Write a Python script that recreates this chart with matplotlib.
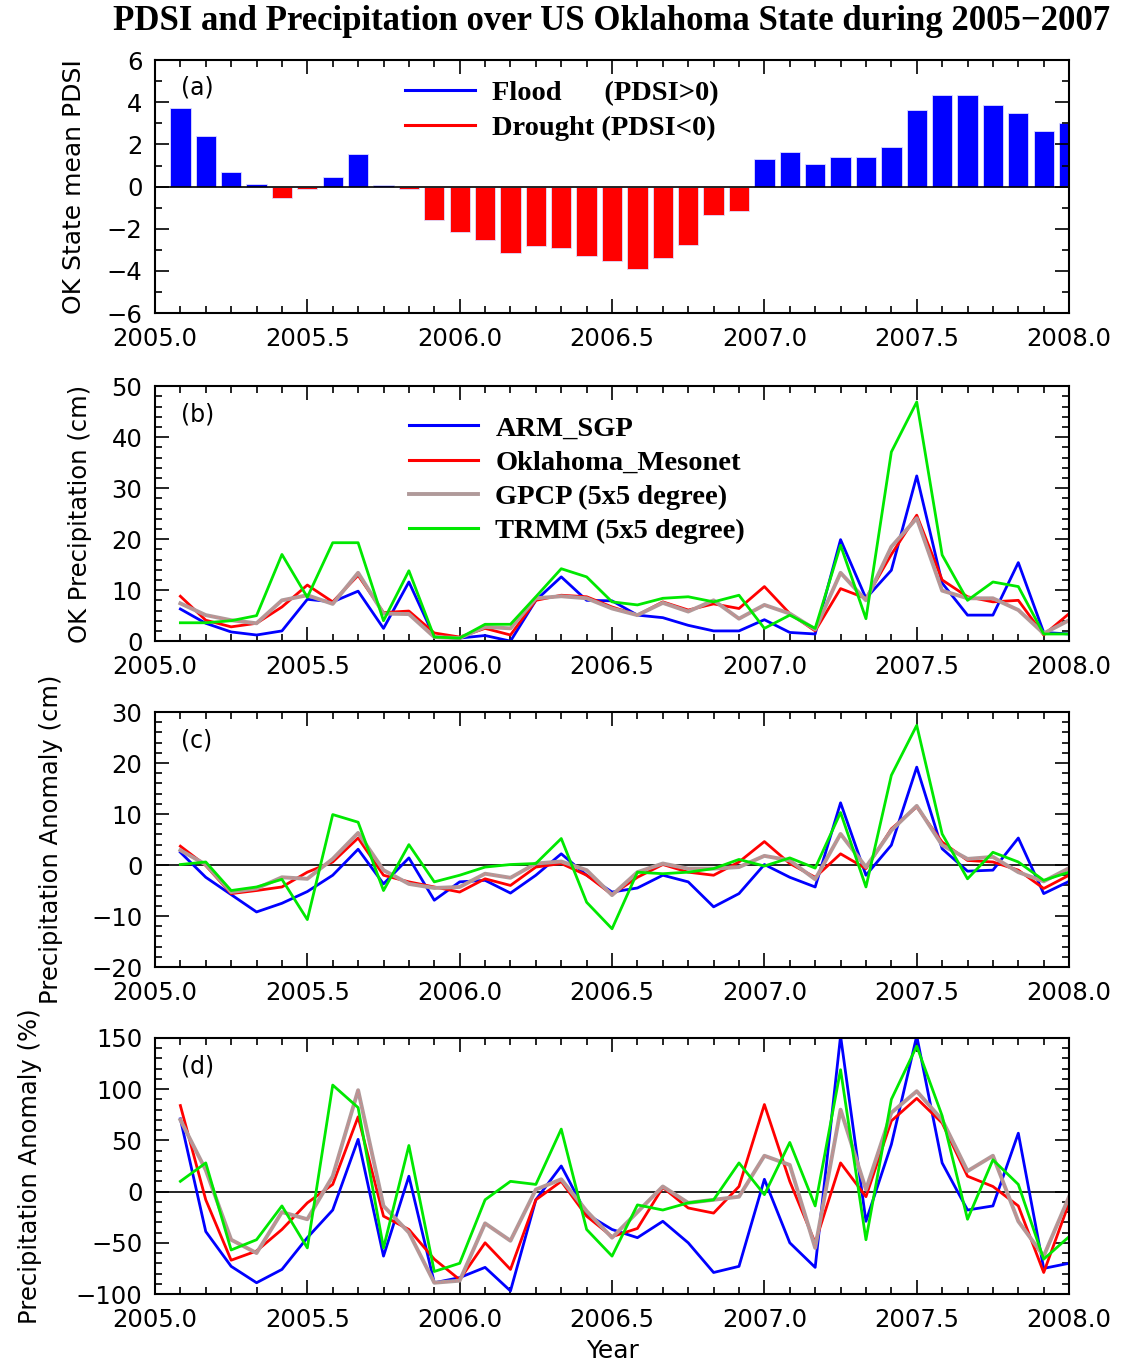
import matplotlib
matplotlib.use("Agg")
import matplotlib.pyplot as plt
import numpy as np
from matplotlib.lines import Line2D
from matplotlib.ticker import MultipleLocator

# monthly time axis: Feb 2005 ... Jan 2008 (plotted as 2005+k/12)
months = np.arange(1, 37)
years = 2005 + months / 12.0

pdsi = [3.72, 2.40, 0.70, 0.10, -0.52, -0.12, 0.47, 1.55, 0.08, -0.12,
        -1.59, -2.15, -2.54, -3.14, -2.84, -2.92, -3.30, -3.52, -3.92, -3.38,
        -2.75, -1.36, -1.14, 1.33, 1.63, 1.09, 1.39, 1.39, 1.87, 3.63,
        4.33, 4.33, 3.87, 3.49, 2.64, 3.02]

# (b) precipitation (cm)
arm_p = [6.3, 3.5, 1.8, 1.2, 2.0, 8.2, 7.7, 9.8, 2.5, 11.6,
         0.8, 0.6, 1.1, 0.0, 8.0, 12.6, 8.0, 7.9, 5.1, 4.6,
         3.1, 2.0, 2.0, 4.2, 1.7, 1.4, 19.9, 8.4, 13.9, 32.4,
         11.4, 5.1, 5.1, 15.4, 1.7, 1.4]
meso_p = [8.8, 4.1, 2.8, 3.5, 6.7, 11.0, 7.7, 12.9, 5.6, 5.9,
          1.6, 0.8, 2.5, 1.2, 8.0, 9.0, 8.7, 6.7, 5.1, 7.7,
          6.1, 7.3, 6.4, 10.7, 5.4, 2.0, 10.3, 8.4, 17.0, 24.7,
          12.0, 8.7, 7.7, 8.0, 1.2, 5.4]
gpcp_p = [7.4, 5.1, 4.1, 3.5, 8.0, 9.0, 7.3, 13.4, 5.4, 5.3,
          0.8, 0.6, 2.8, 2.5, 8.4, 8.8, 8.4, 6.4, 5.1, 7.5,
          5.8, 8.0, 4.4, 7.1, 5.4, 2.3, 13.4, 8.0, 18.5, 24.1,
          9.9, 8.4, 8.4, 6.1, 1.5, 4.1]
trmm_p = [3.6, 3.6, 4.0, 5.0, 17.0, 8.6, 19.3, 19.3, 4.0, 13.8,
          0.8, 0.6, 3.3, 3.3, 8.7, 14.2, 12.6, 7.7, 7.1, 8.4,
          8.7, 7.7, 9.0, 2.5, 5.1, 2.5, 18.8, 4.4, 37.1, 46.9,
          16.9, 8.0, 11.6, 10.7, 1.4, 1.4]

# (c) precipitation anomaly (cm)
arm_a = [2.5, -2.4, -5.8, -9.2, -7.5, -5.2, -2.0, 3.1, -3.7, 1.4,
         -6.9, -3.3, -3.0, -5.5, -2.0, 2.2, -2.0, -5.3, -4.5, -2.0,
         -3.3, -8.2, -5.6, 0.1, -2.4, -4.3, 12.2, -2.0, 3.9, 19.2,
         3.2, -1.2, -1.0, 5.3, -5.6, -3.2]
meso_a = [3.7, -0.1, -5.6, -5.0, -4.3, -1.4, 0.6, 5.3, -2.0, -3.3,
          -4.3, -5.3, -2.7, -4.0, -0.4, 0.3, -2.0, -5.8, -2.4, 0.1,
          -1.4, -2.0, 0.6, 4.6, 0.3, -2.4, 2.2, -0.7, 7.1, 11.4,
          4.5, 0.9, 0.6, -1.0, -4.6, -2.0]
gpcp_a = [2.9, 0.1, -5.3, -4.6, -2.4, -2.7, 1.2, 6.3, -1.0, -3.7,
          -4.5, -4.3, -1.7, -2.5, 0.3, 0.7, -1.0, -5.9, -1.4, 0.3,
          -0.7, -0.7, -0.4, 1.8, 0.9, -2.8, 6.1, -0.4, 6.8, 11.6,
          3.9, 1.2, 1.6, -1.4, -3.2, -0.6]
trmm_a = [0.1, 0.6, -5.0, -4.3, -2.8, -10.7, 9.9, 8.4, -5.0, 4.0,
          -3.3, -2.0, -0.4, 0.1, 0.3, 5.2, -7.3, -12.5, -1.4, -1.7,
          -1.4, -0.7, 1.1, -0.2, 1.4, -0.6, 10.3, -4.3, 17.6, 27.4,
          6.1, -2.7, 2.5, 0.6, -3.0, -1.4]

# (d) precipitation anomaly (%)
arm_r = [71, -39, -73, -89, -76, -45, -18, 51, -63, 15,
         -89, -84, -74, -97, -8, 25, -22, -37, -45, -29,
         -50, -79, -73, 12, -50, -74, 152, -29, 46, 152,
         28, -18, -14, 57, -75, -70]
meso_r = [84, -8, -67, -58, -37, -11, 7, 73, -24, -37,
          -66, -86, -50, -76, -8, 10, -24, -44, -36, 4,
          -16, -21, 5, 85, 10, -50, 28, -5, 69, 91,
          67, 15, 5, -14, -79, -11]
gpcp_r = [70, 21, -47, -60, -20, -27, 15, 99, -14, -40,
          -89, -87, -31, -48, 2, 12, -19, -45, -20, 5,
          -11, -8, -5, 35, 26, -55, 80, 2, 77, 98,
          70, 20, 35, -29, -63, -5]
trmm_r = [10, 28, -57, -47, -14, -55, 104, 82, -55, 45,
          -78, -70, -8, 10, 7, 61, -37, -63, -13, -18,
          -11, -8, 28, -3, 48, -14, 119, -47, 90, 142,
          74, -27, 31, 7, -66, -44]

names = ["ARM_SGP", "Oklahoma_Mesonet", "GPCP (5x5 degree)", "TRMM (5x5 degree)"]
colors = ["#0000ff", "#ff0000", "#b09a9a", "#00e800"]
GPCP_C = "#b09a9a"

serif_bold = {"family": ["Liberation Serif", "DejaVu Serif"], "weight": "bold"}
plt.rcParams["font.family"] = ["DejaVu Sans"]

fig = plt.figure(figsize=(11.23, 13.67), dpi=100)
left, width = 0.138, 0.814
ax_a = fig.add_axes([left, 0.771, width, 0.185])
ax_b = fig.add_axes([left, 0.531, width, 0.1865])
ax_c = fig.add_axes([left, 0.2926, width, 0.1865])
ax_d = fig.add_axes([left, 0.0534, width, 0.1873])


def style_axis(ax, ylim, ymajor, yminor):
    ax.set_xlim(2005.0, 2008.0)
    ax.set_ylim(*ylim)
    ax.xaxis.set_major_locator(MultipleLocator(0.5))
    ax.xaxis.set_minor_locator(MultipleLocator(1 / 12))
    ax.yaxis.set_major_locator(MultipleLocator(ymajor))
    ax.yaxis.set_minor_locator(MultipleLocator(yminor))
    ax.xaxis.set_major_formatter(plt.FuncFormatter(lambda v, p: "%.1f" % v))
    ax.yaxis.set_major_formatter(plt.FuncFormatter(lambda v, p: ("%d" % v).replace("-", "\u2212")))
    ax.tick_params(which="both", direction="in", top=True, right=True, labelsize=17.5, width=1.2)
    ax.tick_params(which="major", length=10)
    ax.tick_params(which="minor", length=5)
    ax.tick_params(axis="x", which="major", pad=10)
    ax.tick_params(axis="y", which="major", pad=9)
    for s in ax.spines.values():
        s.set_linewidth(1.5)


leg_kw = dict(loc="upper left", frameon=False, handlelength=2.45, handletextpad=0.6,
              labelspacing=0.29, borderaxespad=0, prop={**serif_bold, "size": 20.5})

# (a) PDSI bars
pdsi = np.array(pdsi)
bar_cols = np.where(pdsi > 0, "#0000ff", "#ff0000")
ax_a.bar(years, pdsi, width=0.8 / 12, color=bar_cols, edgecolor="#ddddff", linewidth=0.6)
ax_a.axhline(0, color="black", lw=1.2)
style_axis(ax_a, (-6, 6), 2, 1)
ax_a.set_ylabel("OK State mean PDSI", fontsize=18, labelpad=15)
ax_a.text(0.028, 0.89, "(a)", transform=ax_a.transAxes, fontsize=17, va="center")
handles_a = [Line2D([], [], color="#0000ff", lw=2.2), Line2D([], [], color="#ff0000", lw=2.2)]
ax_a.legend(handles_a, ["Flood      (PDSI>0)", "Drought (PDSI<0)"],
            bbox_to_anchor=(0.261, 0.965), **leg_kw)

# (b)-(d) line panels
panels = [
    (ax_b, [arm_p, meso_p, gpcp_p, trmm_p], (0, 50), 10, 2, "OK Precipitation (cm)", "(b)", 14),
    (ax_c, [arm_a, meso_a, gpcp_a, trmm_a], (-20, 30), 10, 2, "Precipitation Anomaly (cm)", "(c)", 20),
    (ax_d, [arm_r, meso_r, gpcp_r, trmm_r], (-100, 150), 50, 10, "Precipitation Anomaly (%)", "(d)", 24),
]
for ax, series, ylim, ymaj, ymin, ylab, tag, lpad in panels:
    if ylim[0] < 0:
        ax.axhline(0, color="black", lw=1.2)
    for vals, name, c in zip(series, names, colors):
        lw = 2.8 if c == GPCP_C else 2.0
        ax.plot(years, vals, color=c, lw=lw, label=name)
        if c == GPCP_C:
            ax.plot(years, vals, color="#e08080", lw=0.8, ls=(0, (1, 1.5)))
    style_axis(ax, ylim, ymaj, ymin)
    ax.set_ylabel(ylab, fontsize=17.5, labelpad=lpad)
    ax.text(0.028, 0.89, tag, transform=ax.transAxes, fontsize=17, va="center")

handles_b = [Line2D([], [], color=c, lw=2.8 if c == GPCP_C else 2.2) for c in colors]
ax_b.legend(handles_b, names, bbox_to_anchor=(0.265, 0.93), **leg_kw)

ax_d.set_xlabel("Year", fontsize=18, labelpad=5)

fig.text(0.545, 0.984, "PDSI and Precipitation over US Oklahoma State during 2005\u22122007",
         ha="center", va="center", fontsize=25, **serif_bold)

fig.savefig("out.png", dpi=100)
